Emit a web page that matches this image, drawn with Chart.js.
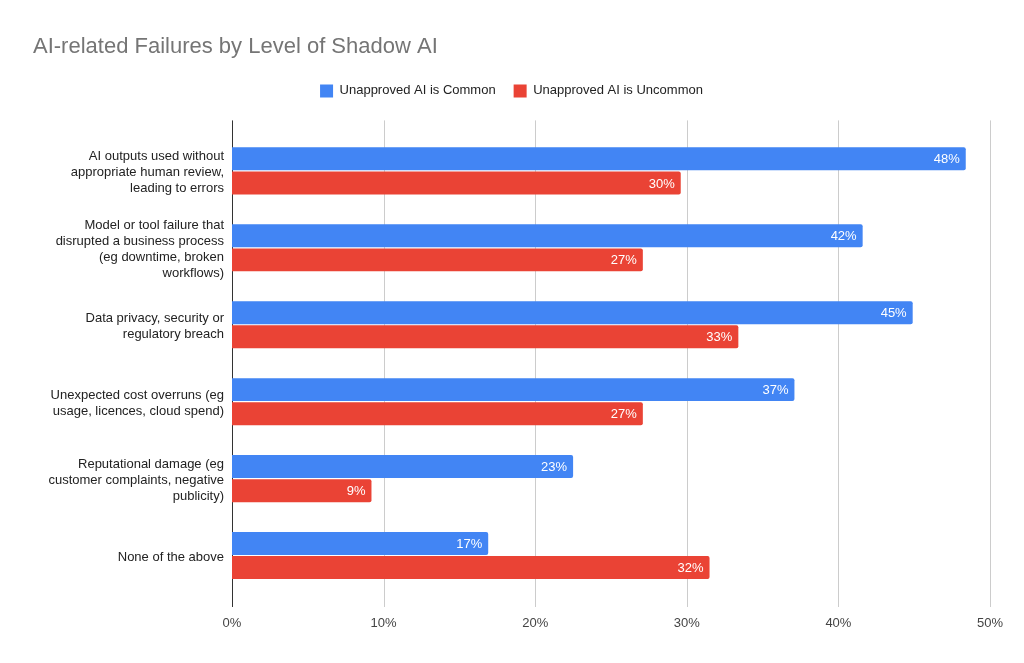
<!DOCTYPE html>
<html>
<head>
<meta charset="utf-8">
<script src="https://cdn.jsdelivr.net/npm/chart.js@4"></script>
<style>
html,body{margin:0;padding:0;background:#fff;}
#wrap{width:1024px;height:663px;position:relative;}
</style>
</head>
<body>
<div id="wrap"><canvas id="c" width="1024" height="663"></canvas></div>
<script>
const chartTitle = 'AI-related Failures by Level of Shadow AI';
const categories = [
  ['AI outputs used without', 'appropriate human review,', 'leading to errors'],
  ['Model or tool failure that', 'disrupted a business process', '(eg downtime, broken', 'workflows)'],
  ['Data privacy, security or', 'regulatory breach'],
  ['Unexpected cost overruns (eg', 'usage, licences, cloud spend)'],
  ['Reputational damage (eg', 'customer complaints, negative', 'publicity)'],
  ['None of the above']
];
const seriesNames = ['Unapproved AI is Common', 'Unapproved AI is Uncommon'];
const commonValues = [48.4, 41.6, 44.9, 37.1, 22.5, 16.9];
const uncommonValues = [29.6, 27.1, 33.4, 27.1, 9.2, 31.5];
const xTicks = [0, 10, 20, 30, 40, 50];

const FONT = '"Liberation Sans", Arial, sans-serif';

const gridPlugin = {
  id: 'gridExt',
  beforeLayout(chart) {
    const lg = chart.legend;
    if (lg && !lg._patched) {
      const f = lg.fit;
      lg.fit = function () { f.call(this); this.height += 25; };
      lg._patched = true;
    }
  },
  beforeDatasetsDraw(chart) {
    const ctx = chart.ctx, xs = chart.scales.x, a = chart.chartArea;
    ctx.save();
    xTicks.forEach(v => {
      const px = Math.round(xs.getPixelForValue(v)) + 0.5;
      ctx.beginPath();
      ctx.strokeStyle = v === 0 ? '#333333' : '#cccccc';
      ctx.lineWidth = 1;
      ctx.moveTo(px, a.top - 12);
      ctx.lineTo(px, a.bottom + 13);
      ctx.stroke();
    });
    ctx.restore();
  }
};

const labelPlugin = {
  id: 'barLabels',
  afterDatasetsDraw(chart) {
    const ctx = chart.ctx;
    ctx.save();
    ctx.font = '13px ' + FONT;
    ctx.fillStyle = '#ffffff';
    ctx.textAlign = 'right';
    ctx.textBaseline = 'middle';
    chart.data.datasets.forEach((ds, di) => {
      chart.getDatasetMeta(di).data.forEach((bar, i) => {
        ctx.fillText(Math.round(ds.data[i]) + '%', bar.x - 6, bar.y + 1);
      });
    });
    ctx.restore();
  }
};

new Chart(document.getElementById('c'), {
  type: 'bar',
  data: {
    labels: categories,
    datasets: [
      { label: seriesNames[0], data: commonValues, backgroundColor: '#4285F4', borderRadius: 2, borderSkipped: 'start',
        categoryPercentage: 0.627, barPercentage: 0.952 },
      { label: seriesNames[1], data: uncommonValues, backgroundColor: '#EA4335', borderRadius: 2, borderSkipped: 'start',
        categoryPercentage: 0.627, barPercentage: 0.952 }
    ]
  },
  options: {
    indexAxis: 'y',
    responsive: false,
    animation: false,
    devicePixelRatio: 1,
    layout: { padding: { left: 33, right: 34, top: 0, bottom: 19 } },
    plugins: {
      title: {
        display: true, text: chartTitle, align: 'start', color: '#757575',
        font: { family: FONT, size: 22, weight: 'normal' },
        padding: { top: 34, bottom: 6 }
      },
      legend: {
        display: true, position: 'top', align: 'center',
        labels: { boxWidth: 13, boxHeight: 13, color: '#222222', padding: 18,
          font: { family: FONT, size: 13 } }
      },
      tooltip: { enabled: false }
    },
    scales: {
      x: {
        min: 0, max: 50,
        grid: { display: false },
        border: { display: false },
        ticks: { stepSize: 10, color: '#444444', padding: 14,
          font: { family: FONT, size: 13 }, callback: v => v + '%' },
        afterFit(s) { s.height = 50; }
      },
      y: {
        grid: { display: false },
        border: { display: false },
        ticks: { color: '#222222', padding: 0, autoSkip: false, labelOffset: 2,
          font: { family: FONT, size: 13, lineHeight: 16 / 13 } },
        afterFit(s) { s.width = 199; }
      }
    }
  },
  plugins: [gridPlugin, labelPlugin]
});
</script>
</body>
</html>
